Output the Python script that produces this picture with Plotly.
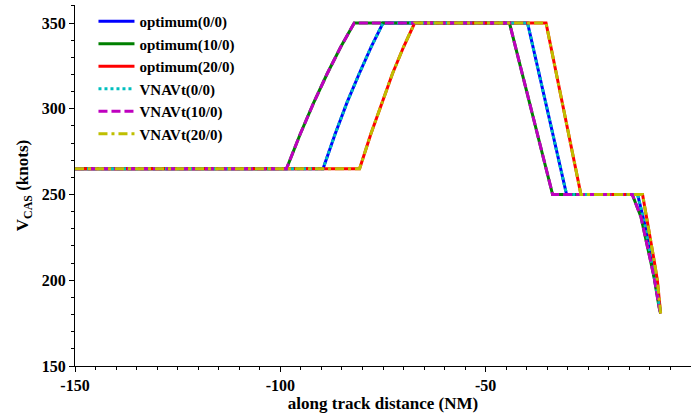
import plotly.graph_objects as go

# ---- data ----
dist_00 = [-150, -89.6, -86.7, -83.8, -80.8, -77.9, -75.0,
           -39.8, -30.3,
           -13.0, -11.2, -9.5, -8.2, -7.4]
vcas_00 = [265, 265, 285, 303.4, 320.4, 336, 350,
           350, 250,
           250, 232, 210, 192, 181]

dist_10 = [-150, -98.5, -95.2, -91.9, -88.6, -85.3, -82.0,
           -44.2, -33.7,
           -14.3, -12.2, -10.6, -9.0, -7.8, -7.4]
vcas_10 = [265, 265, 285, 303.4, 320.4, 336, 350,
           350, 250,
           250, 237, 219.6, 202, 184.6, 180.7]

dist_20 = [-150, -80.7, -78.0, -75.3, -72.7, -70.0, -67.3,
           -35.3, -26.8,
           -11.8, -10.2, -9.0, -8.2, -7.4]
vcas_20 = [265, 265, 285, 303.4, 320.4, 336, 350,
           350, 250,
           250, 229.3, 211.8, 200.1, 180.7]

names = ["optimum(0/0)", "optimum(10/0)", "optimum(20/0)",
         "VNAVt(0/0)", "VNAVt(10/0)", "VNAVt(20/0)"]
xs = [dist_00, dist_10, dist_20, dist_00, dist_10, dist_20]
ys = [vcas_00, vcas_10, vcas_20, vcas_00, vcas_10, vcas_20]
colors = ["#0000ff", "#008000", "#ff0000", "#00bfbf", "#bf00bf", "#bfbf00"]
dashes = ["solid", "solid", "solid", "3px,3px", "9px,4px", "9px,4px,3px,4px"]

x_ticks = [-150, -100, -50, 0]
y_ticks = [150, 200, 250, 300, 350]

FONT = "Liberation Serif"

fig = go.Figure()
for n, x, y, c, d in zip(names, xs, ys, colors, dashes):
    fig.add_trace(go.Scatter(x=x, y=y, mode="lines", name=n,
                             line=dict(color=c, width=3, dash=d)))

axis_common = dict(
    showgrid=False, zeroline=False, showline=True, linecolor="black",
    linewidth=1, ticks="outside", ticklen=5, tickcolor="black",
    mirror=False,
    tickfont=dict(family=FONT, size=16, color="black", weight="bold"),
)

fig.update_layout(
    width=691, height=415,
    margin=dict(l=75, r=0, t=5, b=49),
    paper_bgcolor="white", plot_bgcolor="white",
    font=dict(family=FONT, color="black"),
    showlegend=True,
    legend=dict(x=0.03, y=1.0, xanchor="left", yanchor="top",
                bgcolor="rgba(0,0,0,0)", borderwidth=0, itemwidth=36,
                font=dict(family=FONT, size=15, color="black", weight="bold")),
    xaxis=dict(range=[-150, 0], tickvals=x_ticks,
               ticktext=[str(v) for v in x_ticks],
               minor=dict(dtick=5, ticklen=3, ticks="outside", tickcolor="black"),
               title=dict(text="along track distance (NM)", standoff=3,
                          font=dict(family=FONT, size=17, color="black", weight="bold")),
               **axis_common),
    yaxis=dict(range=[150, 360.5], tickvals=y_ticks,
               ticktext=[str(v) for v in y_ticks],
               minor=dict(dtick=10, ticklen=3, ticks="outside", tickcolor="black"),
               title=dict(text="V<sub>CAS</sub> (knots)", standoff=8,
                          font=dict(family=FONT, size=17, color="black", weight="bold")),
               **axis_common),
)

fig.write_html("out.html")
